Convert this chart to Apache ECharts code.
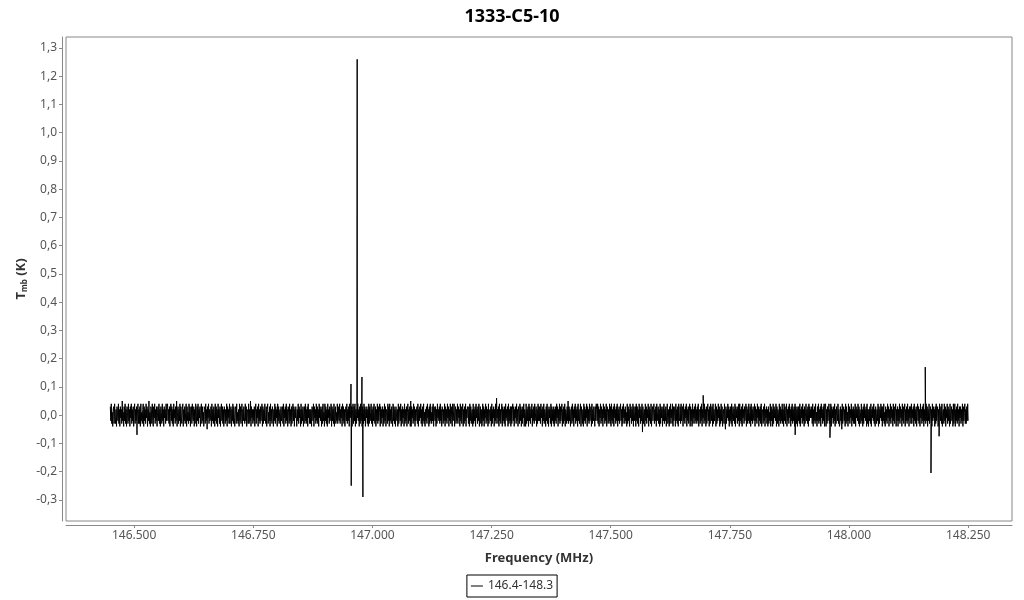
<!DOCTYPE html>
<html>
<head>
<meta charset="utf-8">
<script src="https://cdn.jsdelivr.net/npm/echarts@6/dist/echarts.min.js"></script>
<style>
html,body{margin:0;padding:0;background:#fff;}
#chart{width:1024px;height:600px;}
</style>
</head>
<body>
<div id="chart"></div>
<script>
// ---- data ----
const chartTitle = '1333-C5-10';
const seriesName = '146.4-148.3';
const freqStart = 146.45;
const freqEnd = 148.25;
// baseline noise, Tmb (K), evenly spaced channels from freqStart to freqEnd
const noise = [
.03,-.02,.04,-.03,.01,-.04,.02,.03,-.03,.04,-.01,-.03,.02,-.04,.03,.01,-.02,.04,-.03,.02,-.04,.03,-.01,.02,-.03,.05,-.02,.01,-.04,.03,
-.02,.04,-.03,.02,-.04,.03,.01,-.03,.04,-.02,.02,-.04,.03,-.01,.04,-.03,.02,-.02,.03,-.04,.01,.04,-.03,.02,-.02,.03,-.05,.02,.04,-.03,
.02,-.03,.03,-.04,.04,-.02,.01,-.03,.02,.04,-.04,.03,-.02,.02,-.03,.04,-.01,.03,-.04,.02,-.02,.05,-.03,.01,-.04,.03,.02,-.03,.04,-.02,
-.04,.03,-.01,.04,-.03,.02,-.02,.03,-.04,.01,.03,-.02,.04,-.03,.02,-.04,.03,.01,-.03,.04,-.02,.02,-.04,.03,-.01,.02,-.03,.04,-.02,.03,
.04,-.02,.02,-.03,.03,-.04,.01,.04,-.02,.03,-.03,.02,-.04,.04,-.01,.02,-.03,.03,-.02,.05,-.04,.01,.03,-.03,.02,-.02,.04,-.04,.03,-.01,
-.03,.02,.04,-.04,.02,-.02,.03,-.03,.01,.04,-.04,.03,-.02,.01,-.03,.04,-.02,.03,-.04,.02,.03,-.03,.04,-.01,-.02,.03,-.04,.02,-.03,.04,
.02,-.04,.03,-.02,.04,-.03,.02,-.01,.03,-.04,.02,.04,-.03,.03,-.02,.01,-.04,.03,.02,-.03,.04,-.02,.02,-.05,.03,-.01,.04,-.03,.02,-.02,
-.01,.03,-.04,.04,-.02,.02,-.03,.03,.01,-.04,.04,-.02,.03,-.03,.02,-.04,.04,-.01,.02,-.03,.03,-.04,.01,.04,-.02,.03,-.03,.02,-.04,.03,
.03,-.03,.02,-.02,.04,-.04,.03,-.01,.02,-.03,.04,-.03,.01,.03,-.04,.02,-.02,.04,-.03,.03,-.01,-.04,.02,.03,-.03,.04,-.02,.01,-.03,.02,
-.04,.04,-.02,.03,-.03,.01,.04,-.04,.02,-.02,.03,-.01,-.03,.04,-.02,.03,-.04,.02,.01,-.03,.04,-.03,.02,-.02,.05,-.04,.03,-.01,.02,-.03,
.02,-.02,.03,-.04,.01,.04,-.03,.02,-.01,.03,-.04,.04,-.02,.02,-.03,.03,-.02,.01,.04,-.04,.03,-.03,.02,-.02,.04,-.01,-.03,.03,-.04,.02,
.04,-.03,.01,-.02,.03,-.04,.04,-.02,.02,-.03,.03,.01,-.04,.02,-.02,.04,-.03,.03,-.01,.02,-.04,.04,-.02,.03,-.03,.01,.02,-.04,.03,-.02,
-.02,.03,-.03,.04,-.04,.02,-.01,.03,-.03,.04,-.02,.02,-.04,.03,.01,-.03,.04,-.02,.02,-.04,.03,-.03,.01,.04,-.02,.03,-.04,.02,-.01,.03,
.03,-.04,.02,-.02,.04,-.03,.03,-.01,.02,-.04,.04,-.03,.02,-.02,.03,-.04,.01,.03,-.03,.04,-.02,.02,-.03,.03,-.04,.04,-.01,.02,-.03,.02,
-.03,.02,-.04,.03,.02,-.02,.04,-.04,.03,-.01,.02,-.03,.04,-.02,.03,-.03,.02,-.04,.04,-.01,.03,-.02,.02,-.04,.03,-.03,.04,-.02,.01,-.04,
.04,-.02,.03,-.03,.02,-.04,.04,-.01,.02,-.03,.03,-.02,.01,.04,-.04,.03,-.02,.02,-.03,.04,-.04,.02,.03,-.03,.01,-.02,.04,-.03,.03,-.01,
-.02,.04,-.03,.02,-.01,.03,-.04,.04,-.02,.03,-.03,.02,-.04,.01,.03,-.02,.04,-.03,.02,-.02,.03,-.04,.04,-.01,.02,-.03,.03,-.04,.02,.04,
-.03,.03,-.02,.04,-.04,.02,-.03,.03,-.01,.04,-.02,.02,-.04,.03,-.03,.04,-.02,.01,-.04,.03,.02,-.03,.04,-.02,.03,-.04,.02,-.01,.03,-.03,
.02,-.04,.04,-.03,.03,-.02,.01,.04,-.03,.02,-.04,.03,-.02,.04,-.01,-.03,.03,-.04,.02,-.02,.04,-.03,.03,-.02,.01,.04,-.04,.03,-.03,.02,
-.01,.03,-.04,.02,-.03,.04,-.02,.03,-.04,.02,.01,-.03,.04,-.02,.03,-.04,.04,-.02,.02,-.03,.03,-.01,-.04,.04,-.02,.03,-.03,.02,-.04,.03,
.03,-.02,.02,-.04,.04,-.03,.01,.03,-.02,.04,-.04,.02,-.03,.03,-.01,.02,-.04,.04,-.03,.02,-.02,.03,-.04,.01,.04,-.03,.02,-.02,.03,-.04,
.05,-.04,.03,-.01,.02,-.03,.04,-.02,.03,-.04,.02,-.02,.01,.03,-.03,.04,-.04,.02,-.02,.03,-.01,.04,-.03,.02,-.04,.03,-.02,.04,-.03,.01,
-.04,.02,-.02,.03,-.03,.04,-.01,.02,-.04,.03,-.03,.04,-.02,.01,-.03,.03,-.02,.04,-.04,.03,.01,-.02,.03,-.04,.02,-.03,.04,-.01,.02,-.02,
.03,-.03,.04,-.02,.02,-.04,.03,.01,-.03,.02,-.02,.04,-.04,.03,-.02,.02,-.03,.04,-.01,.03,-.04,.02,-.02,.04,-.03,.03,-.01,-.04,.04,-.02,
-.02,.04,-.04,.01,.03,-.03,.02,-.02,.04,-.03,.03,-.01,.02,-.04,.04,-.02,.03,-.03,.01,.04,-.04,.02,-.03,.03,-.02,.04,-.04,.02,-.01,.03,
.02,-.03,.03,-.04,.04,-.02,.03,-.03,.01,.02,-.04,.04,-.03,.02,-.02,.03,-.04,.04,-.01,.02,-.03,.03,-.02,.04,-.04,.01,.03,-.03,.02,-.04,
-.03,.04,-.02,.03,-.04,.02,-.01,.04,-.03,.03,-.02,.02,-.04,.04,-.03,.01,.02,-.02,.03,-.04,.04,-.03,.02,-.01,.03,-.04,.02,-.02,.04,-.03,
.06,-.01,.02,-.03,.03,-.04,.04,-.02,.02,-.03,.01,.04,-.04,.03,-.02,.02,-.03,.03,-.04,.04,-.01,.02,-.02,.03,-.04,.04,-.03,.02,-.02,.03,
-.04,.03,-.03,.02,.04,-.02,.03,-.04,.02,-.01,.03,-.03,.04,-.02,.02,-.04,.03,.01,-.03,.04,-.02,.03,-.04,.02,-.03,.03,-.01,.04,-.04,.02,
.01,-.04,.04,-.03,.02,-.02,.03,-.04,.04,-.02,.03,-.03,.02,-.01,.04,-.04,.02,-.02,.03,-.03,.04,-.02,.01,.03,-.04,.02,-.03,.04,-.02,.03,
-.02,.03,-.03,.04,-.01,.02,-.04,.03,-.02,.04,-.03,.02,.01,-.04,.03,-.02,.04,-.03,.02,-.04,.03,-.01,.02,-.03,.04,-.04,.03,-.02,.02,-.03,
.03,-.04,.02,-.02,.03,-.03,.04,-.01,.03,-.04,.02,-.02,.04,-.03,.03,-.02,.01,.04,-.04,.02,-.03,.03,-.02,.04,-.04,.02,.01,-.03,.03,-.02,
.05,-.03,.03,-.02,.02,-.04,.01,.03,-.03,.04,-.02,.02,-.04,.03,-.01,.04,-.03,.02,-.02,.03,-.04,.04,-.02,.02,-.03,.01,.04,-.04,.03,-.01,
-.03,.02,-.04,.04,-.02,.03,-.03,.02,-.01,.04,-.04,.03,-.02,.02,-.03,.04,-.02,.01,.03,-.04,.04,-.03,.02,-.02,.03,-.01,-.04,.03,-.02,.04,
.02,-.02,.04,-.03,.03,-.04,.02,-.01,.04,-.03,.03,-.02,.02,-.04,.04,-.01,.03,-.03,.02,-.02,.04,-.04,.03,.01,-.03,.02,-.02,.04,-.03,.03,
-.04,.04,-.02,.02,-.03,.03,-.04,.04,-.01,.02,-.03,.03,-.02,.04,-.04,.02,-.02,.03,-.03,.01,.04,-.02,.02,-.04,.03,-.03,.04,-.01,.02,-.03,
.03,-.02,.01,-.04,.04,-.03,.03,-.02,.02,-.04,.04,-.01,.03,-.03,.02,-.02,.04,-.04,.03,-.02,.01,.03,-.04,.04,-.02,.03,-.03,.02,-.04,.04,
-.01,.03,-.03,.02,-.02,.04,-.06,.03,-.03,.01,.02,-.04,.04,-.02,.03,-.03,.02,-.01,.04,-.04,.03,-.02,.02,-.03,.04,-.04,.01,.03,-.02,.02,
.04,-.03,.02,-.02,.03,-.04,.04,-.02,.01,.03,-.03,.02,-.04,.04,-.03,.03,-.01,.02,-.04,.03,-.02,.04,-.03,.02,-.02,.03,-.04,.01,.04,-.03,
-.02,.02,-.04,.03,-.03,.04,-.01,.02,-.03,.04,-.04,.03,-.02,.01,.03,-.04,.04,-.02,.02,-.03,.03,-.04,.04,-.01,-.02,.03,-.03,.04,-.02,.02,
.03,-.04,.04,-.02,.02,-.03,.03,-.01,.04,-.04,.02,-.02,.03,-.03,.01,.04,-.04,.03,-.02,.02,-.04,.04,-.03,.02,-.01,.03,-.03,.04,-.02,.02,
-.03,.03,-.02,.04,-.04,.01,.02,-.03,.03,-.02,.04,-.04,.02,-.01,.03,-.03,.04,-.02,.02,-.04,.03,-.03,.01,.04,-.02,.02,-.04,.03,-.03,.04,
.02,-.02,.03,-.04,.04,-.03,.02,-.02,.01,.04,-.04,.03,-.03,.02,-.02,.04,-.01,.03,-.04,.02,-.03,.04,-.02,.03,-.04,.01,.02,-.03,.04,-.02,
-.05,.03,-.03,.02,-.01,.04,-.02,.03,-.04,.02,-.02,.03,-.03,.04,-.04,.01,.03,-.02,.02,-.03,.04,-.04,.03,-.01,.02,-.03,.03,-.02,.04,-.04,
.04,-.02,.02,-.03,.03,-.04,.04,-.01,.02,-.03,.03,-.02,.01,.04,-.04,.03,-.03,.02,-.02,.04,-.03,.01,.03,-.04,.04,-.02,.02,-.03,.03,-.01,
-.02,.04,-.04,.03,-.02,.02,-.03,.04,-.01,.03,-.04,.02,-.02,.03,-.03,.04,-.04,.02,.01,-.03,.03,-.02,.04,-.04,.02,-.01,.03,-.03,.02,-.04,
.03,-.03,.01,-.02,.04,-.04,.03,-.02,.02,-.04,.04,-.03,.03,-.01,.02,-.02,.04,-.04,.03,-.03,.02,.01,-.04,.04,-.02,.03,-.03,.02,-.02,.04,
-.03,.02,-.04,.04,-.02,.03,-.03,.01,.04,-.04,.02,-.02,.03,-.03,.04,-.01,.02,-.04,.03,-.02,.04,-.03,.02,-.02,.03,-.04,.04,-.01,.03,-.03,
.02,-.04,.03,-.02,.03,-.03,.04,-.04,.02,-.01,.03,-.03,.04,-.02,.02,-.04,.03,-.03,.01,.04,-.02,.02,-.03,.03,-.04,.04,-.02,.03,-.01,.02,
-.01,.03,-.03,.04,-.04,.02,-.02,.03,-.03,.04,-.02,.01,-.04,.03,-.02,.04,-.03,.02,-.02,.03,-.04,.04,-.01,.02,-.03,.03,-.02,.04,-.04,.03,
.04,-.04,.02,-.03,.03,-.02,.01,.04,-.03,.02,-.02,.04,-.04,.03,-.01,.02,-.03,.03,-.02,.04,-.04,.02,-.03,.03,.01,-.02,.04,-.03,.02,-.04,
-.03,.03,-.02,.02,-.05,.04,-.03,.01,.03,-.02,.02,-.04,.04,-.03,.03,-.02,.01,-.04,.04,-.02,.03,-.03,.02,-.01,.04,-.04,.02,-.02,.03,-.03,
.02,-.03,.04,-.04,.03,-.01,.02,-.02,.04,-.03,.03,-.04,.02,.01,-.03,.04,-.02,.02,-.04,.03,-.03,.04,-.01,.02,-.02,.03,-.04,.04,-.03,.02,
-.04,.02,-.02,.03,-.03,.04,-.04,.02,-.01,.03,-.02,.04,-.03,.02,-.04,.03,.01,-.03,.02,-.02,.04,-.04,.03,-.03,.02,-.01,.04,-.02,.03,-.04,
.03,-.02,.04,-.03,.01,-.04,.03,-.02,.02,-.03,.04,-.01,.03,-.04,.02,-.02,.04,-.03,.03,-.01,.02,-.04,.04,-.02,.03,-.03,.01,.04,-.04,.02,
-.02,.03,-.04,.02,-.02,.04,-.03,.03,-.01,.02,-.04,.04,-.02,.03,-.03,.01,.04,-.04,.02,-.02,.03,-.03,.04,-.02,.02,-.04,.03,-.01,.03,-.03,
.04,-.03,.02,-.01,.03,-.04,.04,-.02,.02,-.03,.03,-.04,.01,.04,-.02,.03,-.03,.02,-.04,.04,-.01,.02,-.03,.03,-.02,.04,-.04,.02,-.02,.03,
-.03,.04,-.02,.03,-.04,.02,-.02,.04,-.03,.01,.03,-.03,.02,-.04,.04,-.02,.03,-.01,.02,-.04,.03,-.03,.04,-.02,.01,.03,-.04,.02,-.03,.04,
.02,-.02,.03,-.03,.04,-.04,.01,.02,-.03,.04,-.02,.03,-.04,.02,-.01,.04,-.03,.03,-.02,.02,-.04,.04,-.03,.01,.03,-.02,.02,-.04,.04,-.03,
-.01,.04,-.04,.02,-.02,.03,-.03,.04,-.02,.02,-.04,.03,-.01,.03,-.03,.02,-.02,.04,-.04,.03,-.02,.01,.04,-.03,.02,-.03,.03,-.02,.04,-.02
];
// narrow lines / spikes: [frequency (MHz), Tmb (K)]
const spikes = [
[146.506, -0.07],
[146.955, 0.11],
[146.9555, -0.25],
[146.968, 1.26],
[146.978, 0.135],
[146.980, -0.29],
[147.694, 0.07],
[147.887, -0.07],
[147.960, -0.08],
[148.160, 0.17],
[148.172, -0.205],
[148.189, -0.075]
];
const yTicks = [-0.3,-0.2,-0.1,0,0.1,0.2,0.3,0.4,0.5,0.6,0.7,0.8,0.9,1.0,1.1,1.2,1.3];
const xTicks = [146.5,146.75,147.0,147.25,147.5,147.75,148.0,148.25];

// ---- build series ----
const step = (freqEnd - freqStart) / (noise.length - 1);
const pts = noise.map((v, i) => [freqStart + i * step, v]).concat(spikes.map(s => [s[0], s[1]]));
pts.sort((a, b) => a[0] - b[0]);

const FONT = 'Noto Sans';
const chart = echarts.init(document.getElementById('chart'), null, {renderer: 'canvas'});
chart.setOption({
  animation: false,
  backgroundColor: '#fff',
  textStyle: {fontFamily: FONT},
  title: {
    text: chartTitle, left: 'center', top: 3,
    textStyle: {fontFamily: FONT, fontSize: 18, fontWeight: 'bold', color: '#000'}
  },
  legend: {
    data: [{name: seriesName, icon: 'rect'}], left: 'center', top: 575,
    padding: [5, 4, 5, 4], borderColor: '#000', borderWidth: 1, borderRadius: 0,
    itemWidth: 12, itemHeight: 1, itemGap: 4,
    textStyle: {fontFamily: FONT, fontSize: 12, color: '#333'}
  },
  grid: {
    left: 66, right: 12, top: 37, bottom: 79, show: true,
    borderColor: '#888', borderWidth: 1, backgroundColor: '#fff'
  },
  xAxis: {
    type: 'value', min: 146.357, max: 148.342, offset: 4,
    name: 'Frequency (MHz)', nameLocation: 'middle', nameGap: 27, nameMoveOverlap: false,
    nameTextStyle: {fontFamily: FONT, fontSize: 13, fontWeight: 'bold', color: '#333'},
    axisLine: {show: true, onZero: false, lineStyle: {color: '#888', width: 1}},
    axisTick: {show: true, length: 3, lineStyle: {color: '#888'}, customValues: xTicks},
    axisLabel: {
      customValues: xTicks, margin: 5, fontFamily: FONT, fontSize: 12, color: '#555',
      formatter: v => v.toFixed(3)
    },
    splitLine: {show: false}
  },
  yAxis: {
    type: 'value', min: -0.375, max: 1.339, offset: 4,
    name: '{t|T}{s|mb}{t| (K)}', nameLocation: 'middle', nameGap: 33, nameMoveOverlap: false,
    nameTextStyle: {
      rich: {
        t: {fontFamily: FONT, fontSize: 13, fontWeight: 'bold', color: '#333'},
        s: {fontFamily: FONT, fontSize: 8, fontWeight: 'bold', color: '#333', verticalAlign: 'bottom', padding: [7, 0, 0, 0]}
      }
    },
    axisLine: {show: true, onZero: false, lineStyle: {color: '#888', width: 1}},
    axisTick: {show: true, length: 3, lineStyle: {color: '#888'}, customValues: yTicks},
    axisLabel: {
      customValues: yTicks, margin: 5, fontFamily: FONT, fontSize: 12, color: '#555',
      formatter: v => v.toFixed(1).replace('.', ',')
    },
    splitLine: {show: false}
  },
  series: [{
    name: seriesName, type: 'line', data: pts,
    symbol: 'none', showSymbol: false,
    lineStyle: {color: '#000', width: 1},
    itemStyle: {color: '#000'},
    emphasis: {disabled: true}
  }]
});
</script>
</body>
</html>
